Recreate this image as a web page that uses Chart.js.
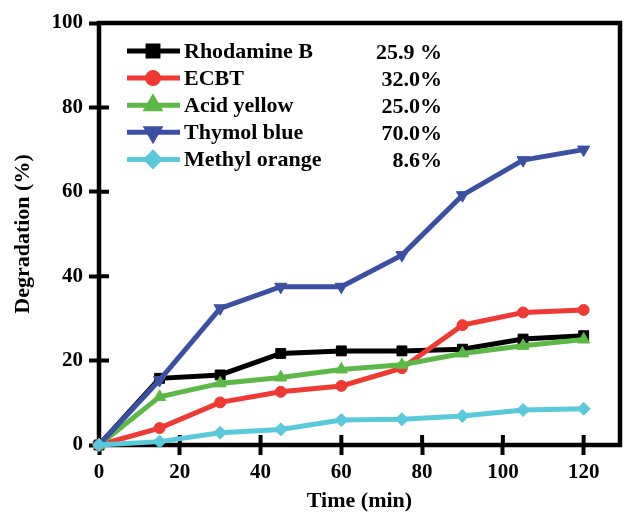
<!DOCTYPE html>
<html>
<head>
<meta charset="utf-8">
<script src="https://cdn.jsdelivr.net/npm/chart.js@4/dist/chart.umd.min.js"></script>
<style>
  html, body { margin: 0; padding: 0; background: #fff; }
  #wrap { width: 628px; height: 517px; position: relative; }
</style>
</head>
<body>
<div id="wrap"><canvas id="degChart"></canvas></div>
<script>
// datos
const tiempos = [0, 15, 30, 45, 60, 75, 90, 105, 120];
const nombres = ['Rhodamine B', 'ECBT', 'Acid yellow', 'Thymol blue', 'Methyl orange'];
const porcentajes = ['25.9 %', '32.0%', '25.0%', '70.0%', '8.6%'];
const rhodamineB = [0, 15.8, 16.6, 21.7, 22.3, 22.3, 22.7, 25.1, 25.9];
const ecbt = [0, 4.0, 10.1, 12.6, 14.0, 18.2, 28.4, 31.4, 32.0];
const acidYellow = [0, 11.4, 14.6, 16.0, 17.9, 19.0, 21.7, 23.5, 25.0];
const thymolBlue = [0, 15.4, 32.4, 37.5, 37.5, 45.0, 59.2, 67.5, 70.0];
const methylOrange = [0, 0.8, 2.9, 3.7, 5.9, 6.1, 6.9, 8.3, 8.6];
const xTicks = [0, 20, 40, 60, 80, 100, 120];
const yTicks = [0, 20, 40, 60, 80, 100];

const FUENTE = 'Liberation Serif, Times New Roman, serif';

function serie(valores) {
    return valores.map((v, i) => ({ x: tiempos[i], y: v }));
}

// ====== estilos de cada serie ======
const estilos = [
    { color: '#000000', punto: 'rect', radio: 7, rot: 0, orden: 5 },
    { color: '#ee3a32', punto: 'circle', radio: 5.5, rot: 0, orden: 4 },
    { color: '#5cb947', punto: 'triangle', radio: 7, rot: 0, orden: 3 },
    { color: '#3b50a3', punto: 'triangle', radio: 7, rot: 180, orden: 2 },
    { color: '#5bc9dc', punto: 'rectRot', radio: 6.5, rot: 0, orden: 1 }
];
const valores = [rhodamineB, ecbt, acidYellow, thymolBlue, methylOrange];

const datasets = valores.map((vals, i) => ({
    label: nombres[i],
    data: serie(vals),
    borderColor: estilos[i].color,
    backgroundColor: estilos[i].color,
    borderWidth: 5,
    pointStyle: estilos[i].punto,
    pointRadius: estilos[i].radio,
    pointRotation: estilos[i].rot,
    pointBorderWidth: 1,
    pointBorderColor: estilos[i].color,
    pointBackgroundColor: estilos[i].color,
    tension: 0,
    clip: false,
    order: estilos[i].orden
}));

// marco + marcas hacia adentro
const marco = {
    id: 'marco',
    beforeDatasetsDraw(chart) {
        const { ctx, chartArea: a, scales } = chart;
        ctx.save();
        ctx.strokeStyle = '#000';
        ctx.lineWidth = 4.5;
        ctx.strokeRect(a.left, a.top, a.right - a.left, a.bottom - a.top);
        ctx.lineWidth = 4;
        ctx.beginPath();
        scales.x.ticks.forEach(t => {
            const px = scales.x.getPixelForValue(t.value);
            ctx.moveTo(px, a.bottom);
            ctx.lineTo(px, a.bottom - 10);
        });
        scales.y.ticks.forEach(t => {
            const py = scales.y.getPixelForValue(t.value);
            ctx.moveTo(a.left, py);
            ctx.lineTo(a.left + 10, py);
        });
        ctx.stroke();
        ctx.restore();
    }
};

// leyenda dentro del grafico
const leyenda = {
    id: 'leyenda',
    afterDraw(chart) {
        const ctx = chart.ctx;
        ctx.save();
        ctx.font = 'bold 22px ' + FUENTE;
        ctx.textBaseline = 'middle';
        chart.data.datasets.forEach((ds, i) => {
            const yy = 51 + i * 27.1;
            ctx.strokeStyle = ds.borderColor;
            ctx.lineWidth = 5;
            ctx.beginPath();
            ctx.moveTo(127, yy);
            ctx.lineTo(180, yy);
            ctx.stroke();
            ctx.fillStyle = ds.borderColor;
            Chart.helpers.drawPoint(ctx, {
                pointStyle: ds.pointStyle,
                radius: ds.pointRadius,
                rotation: ds.pointRotation,
                borderWidth: 1
            }, 153, yy);
            ctx.fillStyle = '#000';
            ctx.textAlign = 'left';
            ctx.fillText(ds.label, 184, yy + 1);
            ctx.textAlign = 'right';
            ctx.fillText(porcentajes[i], 442, yy + 2);
        });
        ctx.restore();
    }
};

const ctx = document.getElementById('degChart').getContext('2d');
window.degChart = new Chart(ctx, {
    type: 'line',
    data: { datasets: datasets },
    plugins: [marco, leyenda],
    options: {
        responsive: true,
        maintainAspectRatio: false,
        animation: false,
        layout: { padding: { top: 23, right: 1, left: 0, bottom: 0 } },
        plugins: { legend: { display: false }, tooltip: { enabled: false } },
        scales: {
            x: {
                type: 'linear',
                min: 0,
                max: 129,
                afterBuildTicks: (s) => { s.ticks = xTicks.map(v => ({ value: v })); },
                afterFit: (s) => { s.height = 72; s.paddingLeft = 0; s.paddingRight = 0; },
                border: { display: false },
                grid: { drawOnChartArea: false, drawTicks: true, tickLength: 10, tickWidth: 4, tickColor: '#000' },
                ticks: { color: '#000', padding: 5, maxRotation: 0, font: { family: FUENTE, size: 21, weight: 'bold' } },
                title: {
                    display: true,
                    text: 'Time (min)',
                    color: '#000',
                    padding: { top: 0, bottom: 2 },
                    font: { family: FUENTE, size: 22, weight: 'bold' }
                }
            },
            y: {
                min: 0,
                max: 100,
                afterBuildTicks: (s) => { s.ticks = yTicks.map(v => ({ value: v })); },
                afterFit: (s) => { s.width = 99; s.paddingTop = 0; s.paddingBottom = 0; },
                border: { display: false },
                grid: { drawOnChartArea: false, drawTicks: true, tickLength: 10, tickWidth: 4, tickColor: '#000' },
                ticks: { color: '#000', padding: 6, font: { family: FUENTE, size: 21, weight: 'bold' } },
                title: {
                    display: true,
                    text: 'Degradation (%)',
                    color: '#000',
                    padding: { top: 10, bottom: 0 },
                    font: { family: FUENTE, size: 22, weight: 'bold' }
                }
            }
        }
    }
});
</script>
</body>
</html>
